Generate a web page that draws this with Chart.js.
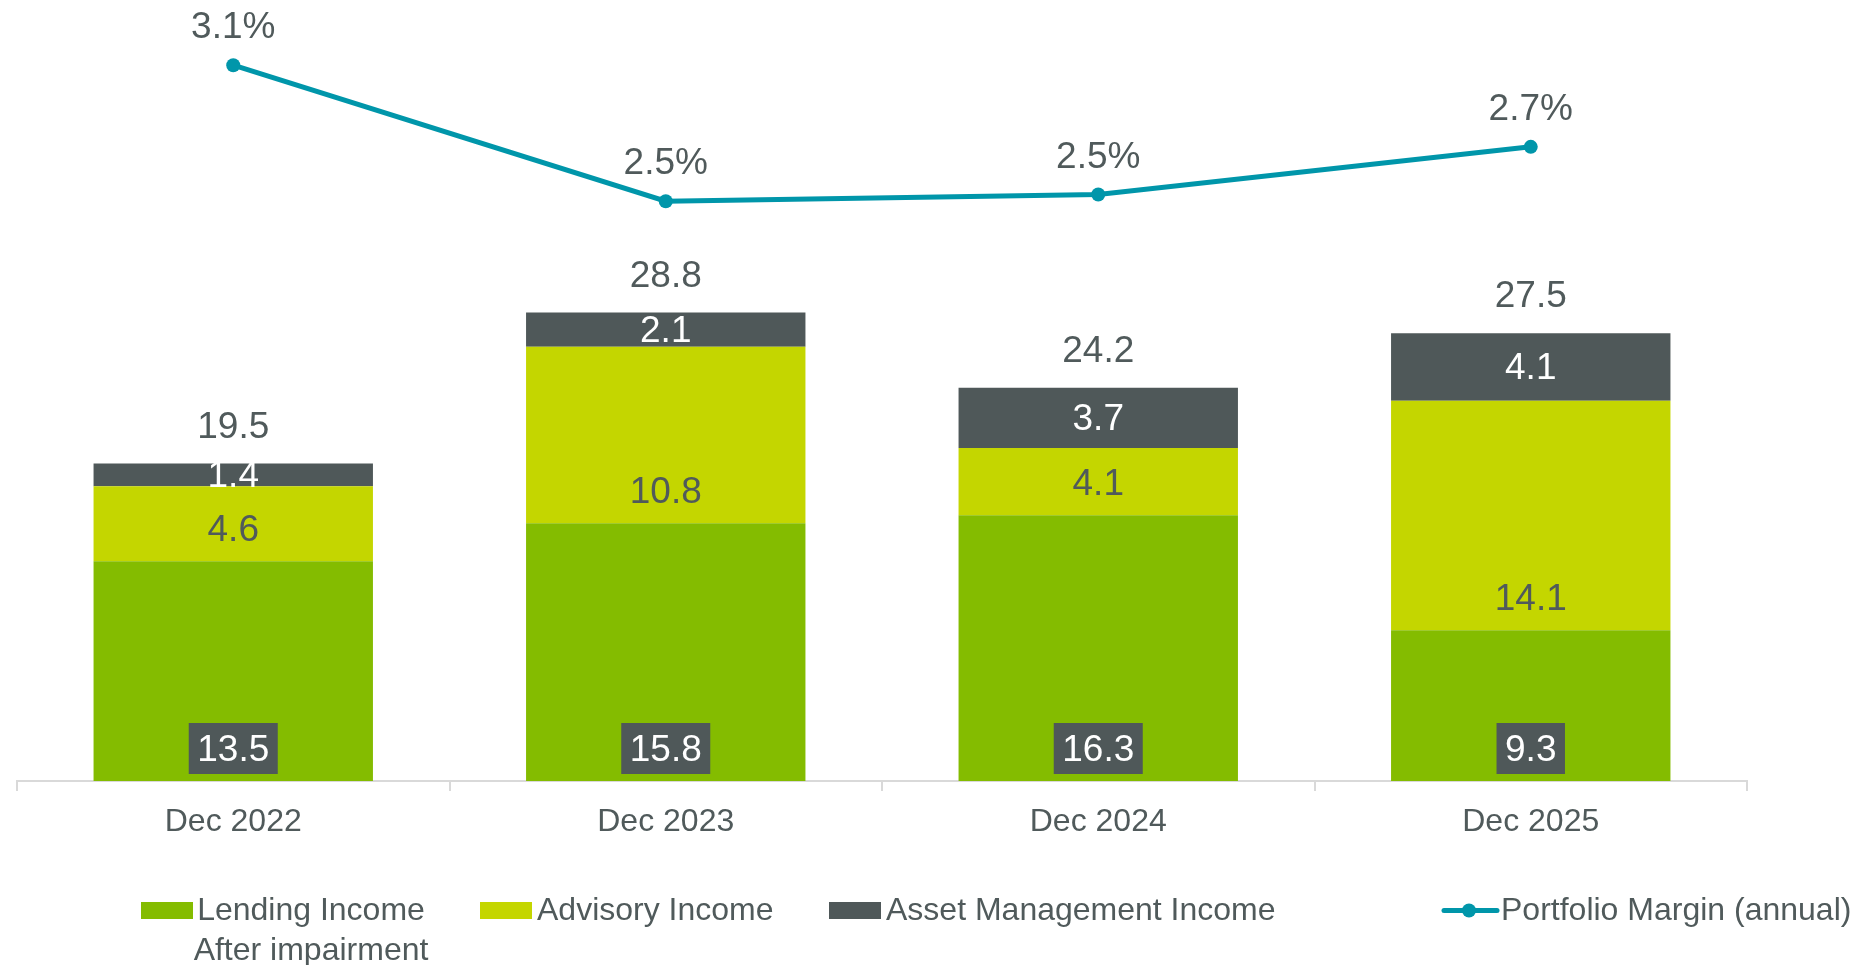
<!DOCTYPE html>
<html>
<head>
<meta charset="utf-8">
<script src="https://cdn.jsdelivr.net/npm/chart.js@4.4.1/dist/chart.umd.min.js"></script>
<style>
  html, body { margin: 0; padding: 0; background: #ffffff; }
  #wrap { width: 1857px; height: 965px; position: relative; }
</style>
</head>
<body>
<div id="wrap"><canvas id="c"></canvas></div>
<script>
const categories = ['Dec 2022', 'Dec 2023', 'Dec 2024', 'Dec 2025'];
const lendingIncome = [13.5, 15.83, 16.33, 9.26];
const advisoryIncome = [4.6, 10.84, 4.12, 14.1];
const assetMgmtIncome = [1.4, 2.11, 3.71, 4.14];
const portfolioMargin = [3.07, 2.47, 2.50, 2.71];
const seriesNames = ['Lending Income', 'Advisory Income', 'Asset Management Income', 'Portfolio Margin (annual)'];

const C_LEND = '#84bc00';
const C_ADV = '#c4d600';
const C_AM = '#4f5859';
const C_LINE = '#0096aa';
const C_TEXT = '#505a5b';
const FONT = '"Liberation Sans", Arial, sans-serif';

const labelPlugin = {
  id: 'labels',
  afterDatasetsDraw(chart) {
    const ctx = chart.ctx;
    ctx.save();
    ctx.textAlign = 'center';
    ctx.textBaseline = 'middle';
    ctx.font = '37px ' + FONT;
    const m0 = chart.getDatasetMeta(0), m1 = chart.getDatasetMeta(1), m2 = chart.getDatasetMeta(2), m3 = chart.getDatasetMeta(3);
    categories.forEach((c, i) => {
      // lending: boxed label near base
      const e0 = m0.data[i];
      const t0 = lendingIncome[i].toFixed(1);
      const w0 = ctx.measureText(t0).width + 17;
      const h0 = 51;
      const by = e0.base - 7 - h0;
      ctx.fillStyle = C_AM;
      ctx.fillRect(e0.x - w0 / 2, by, w0, h0);
      ctx.fillStyle = '#ffffff';
      ctx.fillText(t0, e0.x, by + h0 / 2 + 2);
      // advisory
      const e1 = m1.data[i];
      ctx.fillStyle = C_TEXT;
      ctx.fillText(advisoryIncome[i].toFixed(1), e1.x, e1.base - 30);
      // asset management
      const e2 = m2.data[i];
      ctx.fillStyle = '#ffffff';
      ctx.fillText(assetMgmtIncome[i].toFixed(1), e2.x, (e2.y + e2.base) / 2 + 2);
      // total
      const tot = lendingIncome[i] + advisoryIncome[i] + assetMgmtIncome[i];
      ctx.fillStyle = C_TEXT;
      ctx.fillText(tot.toFixed(1), e2.x, e2.y - 36);
      // margin
      const p = m3.data[i];
      ctx.fillText(portfolioMargin[i].toFixed(1) + '%', p.x, p.y - 37);
    });
    ctx.restore();
  }
};

const legendPlugin = {
  id: 'customLegend',
  afterDraw(chart) {
    const ctx = chart.ctx;
    ctx.save();
    ctx.font = '32px ' + FONT;
    ctx.fillStyle = C_TEXT;
    ctx.textBaseline = 'alphabetic';
    const base = 920;
    const sy = 902;
    // Lending
    ctx.fillStyle = C_LEND; ctx.fillRect(141, sy, 52, 17);
    ctx.fillStyle = C_TEXT;
    ctx.textAlign = 'center';
    ctx.fillText(seriesNames[0], 311, base);
    ctx.fillText('After impairment', 311, base + 40);
    ctx.textAlign = 'left';
    // Advisory
    ctx.fillStyle = C_ADV; ctx.fillRect(480, sy, 52, 17);
    ctx.fillStyle = C_TEXT; ctx.fillText(seriesNames[1], 537, base);
    // Asset management
    ctx.fillStyle = C_AM; ctx.fillRect(829, sy, 52, 17);
    ctx.fillStyle = C_TEXT; ctx.fillText(seriesNames[2], 886, base);
    // Portfolio margin
    ctx.strokeStyle = C_LINE; ctx.lineWidth = 5; ctx.lineCap = 'round';
    ctx.beginPath(); ctx.moveTo(1444, sy + 8.5); ctx.lineTo(1497, sy + 8.5); ctx.stroke();
    ctx.fillStyle = C_LINE;
    ctx.beginPath(); ctx.arc(1469, sy + 8.5, 7, 0, Math.PI * 2); ctx.fill();
    ctx.fillStyle = C_TEXT; ctx.fillText(seriesNames[3], 1501, base);
    ctx.restore();
  }
};

new Chart(document.getElementById('c'), {
  data: {
    labels: categories,
    datasets: [
      { type: 'bar', label: seriesNames[0], data: lendingIncome, backgroundColor: C_LEND, stack: 's', yAxisID: 'y', barPercentage: 0.646, categoryPercentage: 1.0 },
      { type: 'bar', label: seriesNames[1], data: advisoryIncome, backgroundColor: C_ADV, stack: 's', yAxisID: 'y', barPercentage: 0.646, categoryPercentage: 1.0 },
      { type: 'bar', label: seriesNames[2], data: assetMgmtIncome, backgroundColor: C_AM, stack: 's', yAxisID: 'y', barPercentage: 0.646, categoryPercentage: 1.0 },
      { type: 'line', label: seriesNames[3], data: portfolioMargin, yAxisID: 'y2', borderColor: C_LINE, backgroundColor: C_LINE, borderWidth: 5, pointRadius: 7, pointHoverRadius: 7, pointBorderWidth: 0, pointBackgroundColor: C_LINE, tension: 0, clip: false }
    ]
  },
  options: {
    responsive: true,
    maintainAspectRatio: false,
    animation: false,
    events: [],
    layout: { padding: { left: 17, right: 110, top: 21, bottom: 0 } },
    plugins: { legend: { display: false }, tooltip: { enabled: false } },
    scales: {
      x: {
        stacked: true,
        offset: true,
        afterFit: (scale) => { scale.height = 184; },
        grid: { display: true, offset: true, drawOnChartArea: false, drawTicks: true, tickLength: 10, color: '#d9d9d9', lineWidth: 2 },
        border: { display: true, color: '#d9d9d9', width: 2 },
        ticks: { color: C_TEXT, font: { size: 32, family: FONT }, padding: 12, maxRotation: 0 }
      },
      y: { stacked: true, display: false, min: 0, max: 46.68 },
      y2: { display: false, min: -0.087, max: 3.265 }
    }
  },
  plugins: [labelPlugin, legendPlugin]
});
</script>
</body>
</html>
